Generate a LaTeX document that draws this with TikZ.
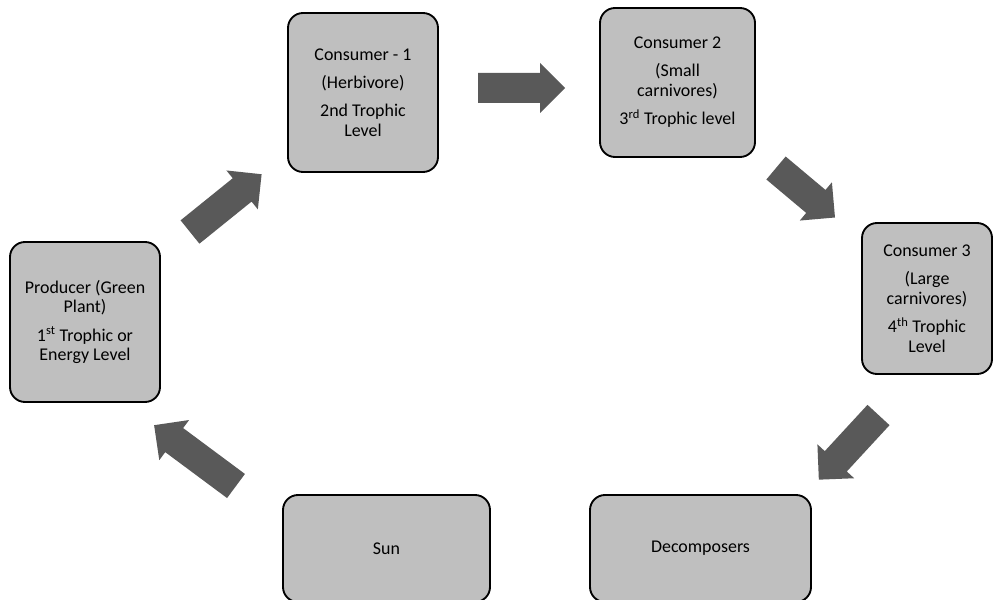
\documentclass[tikz,border=0pt]{standalone}
\usepackage{fontspec}
\setmainfont{Carlito}
\definecolor{boxgray}{HTML}{BFBFBF}
\definecolor{arrowgray}{HTML}{595959}
\newdimen\px \px=0.03cm
\tikzset{
  box/.style={draw=black, line width=1.6pt, fill=boxgray, rounded corners=0.45cm,
    align=center, inner sep=0pt, font=\fontsize{15.3}{17}\selectfont},
  pics/barrow/.style={code={
    \fill[arrowgray] (0,-15) -- ({#1-25},-15) -- ({#1-25},-25) -- (#1,0)
      -- ({#1-25},25) -- ({#1-25},15) -- (0,15) -- cycle;}}
}
\newcommand{\psup}[1]{\textsuperscript{#1}}
\begin{document}
\begin{tikzpicture}[x=0.03cm,y=-0.03cm]
\useasboundingbox (0,0) rectangle (993,600);
\clip (0,0) rectangle (993,600);
\node[box, minimum width=150\px, minimum height=160\px] (prod) at (85,322)
  {Producer (Green\\Plant)\\[7pt]1\psup{st} Trophic or\\Energy Level};
\node[box, minimum width=150\px, minimum height=159\px] (c1) at (363,92.5)
  {Consumer - 1\\[7pt](Herbivore)\\[7pt]2nd Trophic\\Level};
\node[box, minimum width=155\px, minimum height=149\px] (c2) at (677.5,82.5)
  {Consumer 2\\[7pt](Small\\carnivores)\\[7pt]3\psup{rd} Trophic level};
\node[box, minimum width=130\px, minimum height=151\px] (c3) at (927,298.5)
  {Consumer 3\\[7pt](Large\\carnivores)\\[7pt]4\psup{th} Trophic\\Level};
\node[box, minimum width=207\px, minimum height=107\px] (sun) at (386.5,548.5) {Sun};
\node[box, minimum width=221\px, minimum height=107\px] (dec) at (700.5,548.5) {Decomposers};
\coordinate (t1) at (190,232);
\coordinate (t2) at (478,88);
\coordinate (t3) at (776,168);
\coordinate (t4) at (878.5,415);
\coordinate (t5) at (236,486);
\pic[rotate=38.9] at (t1) {barrow=92};
\pic at (t2) {barrow=87};
\pic[rotate=-40] at (t3) {barrow=77};
\pic[rotate=-132.7] at (t4) {barrow=88};
\pic[rotate=143.4] at (t5) {barrow=102};
\end{tikzpicture}
\end{document}
